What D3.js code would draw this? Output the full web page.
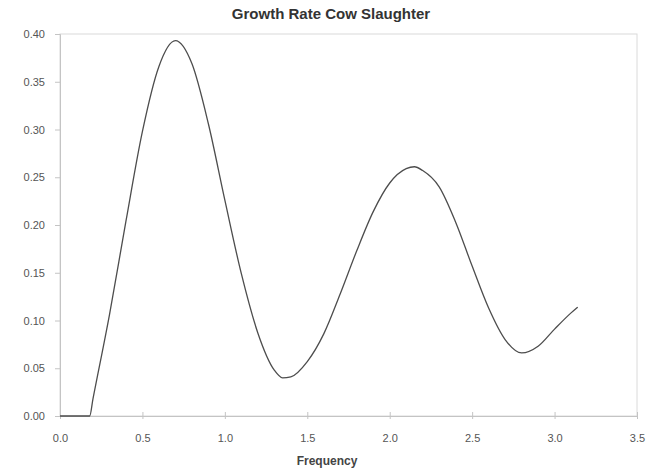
<!DOCTYPE html>
<html><head><meta charset="utf-8">
<script src="https://cdn.jsdelivr.net/npm/d3@7"></script>
<style>body{margin:0;background:#fff}</style>
</head><body>
<svg id="c" width="664" height="475"></svg>
<script>
const title = "Growth Rate Cow Slaughter";
const xLabel = "Frequency";
const frequency = [0, 0.1, 0.18, 0.2, 0.3, 0.4, 0.5, 0.6, 0.7, 0.8, 0.9, 1.0, 1.1, 1.2, 1.3, 1.35, 1.4, 1.5, 1.6, 1.7, 1.8, 1.9, 2.0, 2.1, 2.15, 2.2, 2.3, 2.4, 2.5, 2.6, 2.7, 2.8, 2.9, 3.0, 3.1, 3.14];
const growth =    [0, 0,   0,    0.018, 0.106, 0.204, 0.298, 0.366, 0.393, 0.369, 0.306, 0.226, 0.149, 0.087, 0.048, 0.040, 0.041, 0.057, 0.086, 0.128, 0.173, 0.214, 0.244, 0.259, 0.261, 0.257, 0.240, 0.203, 0.157, 0.113, 0.080, 0.066, 0.073, 0.091, 0.108, 0.114];
const xTicks = [0, 0.5, 1.0, 1.5, 2.0, 2.5, 3.0, 3.5];
const yTicks = [0, 0.05, 0.10, 0.15, 0.20, 0.25, 0.30, 0.35, 0.40];

const svg = d3.select("#c");
const L = 60, R = 637, T = 34, B = 416;
const x = d3.scaleLinear().domain([0, 3.5]).range([L, R]);
const y = d3.scaleLinear().domain([0, 0.4]).range([B, T]);
const font = "Arial, 'Liberation Sans', sans-serif";
const axisCol = "#c4c4c4";

// frame
svg.append("rect").attr("x", L).attr("y", T).attr("width", R - L).attr("height", B - T)
  .attr("fill", "none").attr("stroke", "#dadada").attr("stroke-width", 1);

// y axis
const ya = svg.append("g").attr("transform", `translate(${L},0)`)
  .call(d3.axisLeft(y).tickValues(yTicks).tickFormat(d3.format(".2f")).tickSize(5).tickPadding(10));
ya.select(".domain").attr("stroke", axisCol);
ya.selectAll(".tick line").attr("stroke", axisCol);
ya.selectAll("text").attr("font-family", font).attr("font-size", 11).attr("fill", "#555");

// x axis
const xa = svg.append("g").attr("transform", `translate(0,${B})`)
  .call(d3.axisBottom(x).tickValues(xTicks).tickFormat(d3.format(".1f")).tickSize(3).tickPadding(15));
xa.select(".domain").attr("stroke", axisCol);
xa.selectAll(".tick line").attr("stroke", axisCol).attr("y1", -4);
xa.selectAll("text").attr("font-family", font).attr("font-size", 11).attr("fill", "#555");

// line
const data = frequency.map((f, i) => [f, growth[i]]);
svg.append("path").datum(data)
  .attr("fill", "none").attr("stroke", "#4d4d4d").attr("stroke-width", 1.3)
  .attr("d", d3.line().x(d => x(d[0])).y(d => y(d[1])).curve(d3.curveMonotoneX));

// title
svg.append("text").attr("x", 331).attr("y", 19).attr("text-anchor", "middle")
  .attr("font-family", font).attr("font-weight", "bold").attr("font-size", 15).attr("fill", "#333")
  .text(title);
svg.append("text").attr("x", 327).attr("y", 465).attr("text-anchor", "middle")
  .attr("font-family", font).attr("font-weight", "bold").attr("font-size", 12).attr("fill", "#444")
  .text(xLabel);
</script>
</body></html>
